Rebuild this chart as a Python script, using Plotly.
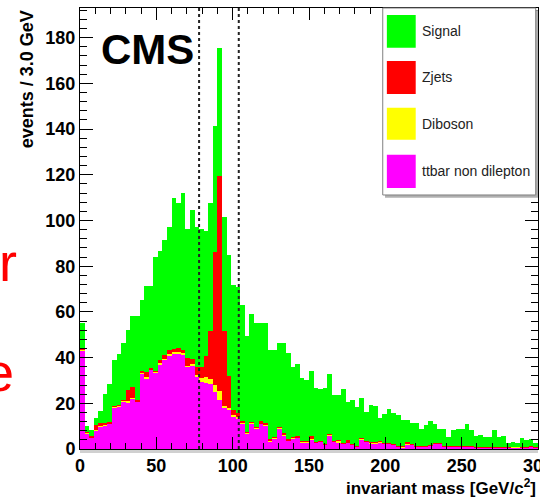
import numpy as np
import plotly.graph_objects as go

# ---------------- data (events / 3.0 GeV, 100 bins from 0 to 300) ----------------
bin_width = 3.0
n_bins = 100

ttbar = [43, 7, 5, 8, 9.8, 10.3, 11, 18.2, 18.8, 20.7, 20.5, 22, 20.7, 33, 31, 34.6, 33.4, 37, 39, 41,
         41.9, 42, 41.5, 36, 36.5, 31.6, 29.5, 29, 28.5, 25, 21.4, 17.8, 17, 14.2, 13.5, 11.2, 6.8, 11.2, 9, 11,
         10.5, 3.2, 4.7, 9, 6.1, 3.7, 4.7, 5,
         2.9, 2.9, 4.2, 2.8, 3.2, 1.8, 6, 3.2, 2.9, 2.2, 2.8, 1.8, 1, 4.2, 3.2, 2.5, 2.5, 3, 2.2, 2.2, 1.8, 1,
         0.7, 1.8, 1.8, 1,
         1.2, 1.2, 1.5, 2.5, 2.5, 1.2, 1.2, 1.2, 1, 1.2, 1, 1, 0.5, 0.7, 0.7, 0.5, 0.5, 0.6, 0.5, 0.5,
         0.8, 0.8, 0.6, 0.5, 1.2, 0.5]

diboson = [0.5, 0.2, 0.2, 0.4, 0.4, 0.4, 0.3, 0.3, 0.3, 0.4, 0.5, 0.5, 0.3, 0.5, 0.5, 0.4, 0.4, 0.5, 0.5, 0.5,
           0.5, 0.5, 0.5, 0.5, 0.5, 1, 1.5, 2.5, 2, 3, 4, 1, 1, 0.5, 0.5, 0.4, 0.3, 0.3, 0.3, 0.3,
           0.3, 0.3, 0.3, 0.3, 0.3, 0.2, 0.2, 0.2,
           0.2, 0.2, 0.2, 0.2, 0.2, 0.2, 0.2, 0.2, 0.8, 0.2, 0.2, 0.2, 0.2, 0.2, 0.2, 0.2, 0.2, 0.2, 0.2, 0.2,
           0.2, 0.2, 0.2, 0.2, 0.2, 0.2,
           0.1, 0.1, 0.1, 0.1, 0.1, 0.1, 0.1, 0.1, 0.1, 0.1, 0.1, 0.1, 0.1, 0.1, 0.1, 0.1, 0.1, 0.1, 0.1, 0.1,
           0.1, 0.1, 0.1, 0.1, 0.1, 0.1]

zjets = [0.5, 0.3, 0.3, 2, 1, 0.6, 0.3, 0.3, 0.3, 0.3, 5, 4.5, 0.5, 0.5, 2, 0.5, 0.5, 1.5, 1.5, 2,
         1.4, 1.5, 1.3, 3.2, 2.5, 3.4, 5, 9, 21, 58, 94, 33, 14, 2.5, 1.7, 0.8, 0.5, 0.4, 0.3, 0.8,
         0.4, 0.8, 0.4, 0.4, 0.4, 0.3, 0.3, 0.3,
         0.2, 0.2, 1.5, 0.2, 0.2, 0.2, 0.2, 0.2, 0.2, 0.2, 0.8, 0.2, 0.2, 0.2, 0.2, 0.2, 0.2, 0.2, 0.2, 0.2,
         0.2, 0.2, 0.2, 1.2, 0.2, 0.2,
         0.1, 0.1, 0.1, 0.1, 0.1, 0.1, 0.1, 0.1, 0.1, 0.1, 0.1, 0.1, 0.1, 0.1, 0.1, 0.1, 0.1, 0.1, 0.1, 0.1,
         0.1, 0.1, 0.1, 0.1, 0.1, 0.1]

signal = [11, 2.5, 2.8, 3.1, 5.6, 12.7, 16.8, 20.2, 22.2, 24.8, 26, 31.2, 36.7, 31.2, 37.8, 36, 49.9, 47.8, 50.5, 53.8,
          65.9, 63.5, 68.6, 56.4, 65.1, 61, 60.1, 55, 56, 55.4, 56, 49.7, 53, 54.6, 55.3, 50.6, 41.9, 47.3, 45.4, 42.9,
          43.8, 39, 37.9, 36.6, 39.5, 37.7, 30.8, 31.5,
          27.6, 26.9, 28.2, 23.6, 22.5, 24.6, 26.3, 20.0, 19.7, 23.5, 16.9, 19.2, 17.1, 17.6, 12.7, 16.4, 15.9, 10.0,
          12.6, 14.8, 13.4, 13.5, 11.7, 9.6, 9.3, 9.8,
          7.2, 9.1, 10.7, 8.2, 5.9, 7.2, 4.0, 6.8, 7.4, 7.2, 9.6, 7.1, 5.0, 5.4, 4.2, 4.7, 7.6, 4.6, 5.0, 1.8,
          2.2, 1.8, 4.0, 3.3, 2.8, 1.8]

series_names = ["ttbar non dilepton", "Diboson", "Zjets", "Signal"]
series_colors = ["#ff00ff", "#ffff00", "#ff0000", "#00ff00"]
window_edges = [78, 104]          # dotted Z-mass window lines (GeV)
x_ticks = [0, 50, 100, 150, 200, 250, 300]
y_ticks = [0, 20, 40, 60, 80, 100, 120, 140, 160, 180]

centers = np.arange(n_bins) * bin_width + bin_width / 2

fig = go.Figure()
for name, vals, col in zip(series_names, [ttbar, diboson, zjets, signal], series_colors):
    fig.add_trace(go.Bar(x=centers, y=vals, width=bin_width, name=name,
                         marker=dict(color=col, line=dict(width=0)), showlegend=False))

FONT = "Liberation Sans, Arial, Helvetica, sans-serif"

fig.update_layout(
    width=540, height=497,
    margin=dict(l=80, r=2, t=8, b=48),
    barmode="stack", bargap=0,
    plot_bgcolor="white", paper_bgcolor="white",
    font=dict(family=FONT, color="black"),
)
fig.update_xaxes(range=[0, 300], tickvals=x_ticks, ticks="inside", ticklen=12, tickwidth=1,
                 tickcolor="black", showline=True, linecolor="black", linewidth=1, mirror="ticks",
                 showgrid=False, zeroline=False, ticklabeloverflow="allow", automargin=False,
                 tickfont=dict(family=FONT, size=18, weight="bold", color="black"),
                 minor=dict(dtick=10, ticks="inside", ticklen=6, tickcolor="black", showgrid=False))
fig.update_yaxes(range=[0, 193], tickvals=y_ticks, ticks="inside", ticklen=13, tickwidth=1,
                 tickcolor="black", showline=True, linecolor="black", linewidth=1, mirror="ticks",
                 showgrid=False, zeroline=False, automargin=False,
                 tickfont=dict(family=FONT, size=18, weight="bold", color="black"),
                 minor=dict(dtick=4, ticks="inside", ticklen=7, tickcolor="black", showgrid=False))

shapes = []
for xv in window_edges:
    shapes.append(dict(type="line", xref="x", yref="paper", x0=xv, x1=xv, y0=0, y1=1,
                       line=dict(color="#222222", width=2, dash="dot")))
# gray shading under x axis
shapes.append(dict(type="rect", xref="paper", yref="paper", x0=0, x1=1, y0=-0.009, y1=-0.002,
                   fillcolor="#d0d0d0", line=dict(width=0), layer="below"))
# legend box (shadow + box)
shapes.append(dict(type="rect", xref="paper", yref="paper", x0=0.666, x1=1.0, y0=0.570, y1=0.995,
                   fillcolor="#b0b0b0", line=dict(width=0)))
shapes.append(dict(type="rect", xref="paper", yref="paper", x0=0.661, x1=0.995, y0=0.576, y1=1.0,
                   fillcolor="white", line=dict(color="#808080", width=1)))
sw = [(0.910, 0.984), (0.805, 0.880), (0.701, 0.774), (0.592, 0.667)]
leg_cols = ["#00ff00", "#ff0000", "#ffff00", "#ff00ff"]
leg_names = ["Signal", "Zjets", "Diboson", "ttbar non dilepton"]
annotations = []
for (y0, y1), c, nm in zip(sw, leg_cols, leg_names):
    shapes.append(dict(type="rect", xref="paper", yref="paper", x0=0.670, x1=0.733, y0=y0, y1=y1,
                       fillcolor=c, line=dict(width=0)))
    annotations.append(dict(text=nm, xref="paper", yref="paper", x=0.742, y=(y0 + y1) / 2,
                            xanchor="left", yanchor="middle", showarrow=False,
                            font=dict(family=FONT, size=14, color="#222222")))

annotations += [
    dict(text="CMS", xref="paper", yref="paper", x=0.042, y=0.905, xanchor="left", yanchor="middle",
         showarrow=False, font=dict(family=FONT, size=42, weight="bold", color="black")),
    dict(text="invariant mass [GeV/c<sup>2</sup>]", xref="paper", yref="paper", x=1.0, y=-0.087,
         xanchor="right", yanchor="middle", showarrow=False,
         font=dict(family=FONT, size=17, weight="bold", color="black")),
    dict(text="events / 3.0 GeV", xref="paper", yref="paper", x=-0.115, y=1.0, textangle=-90,
         xanchor="center", yanchor="top", showarrow=False,
         font=dict(family=FONT, size=18, weight="bold", color="black")),
    dict(text="r", xref="paper", yref="paper", x=(19 - 80) / 458, y=0.425, xanchor="right",
         yanchor="middle", showarrow=False, font=dict(family=FONT, size=54, color="#ff0000")),
    dict(text="e", xref="paper", yref="paper", x=(16 - 80) / 458, y=0.175, xanchor="right",
         yanchor="middle", showarrow=False, font=dict(family=FONT, size=54, color="#ff0000")),
]
fig.update_layout(shapes=shapes, annotations=annotations)

fig.write_html("out.html")
